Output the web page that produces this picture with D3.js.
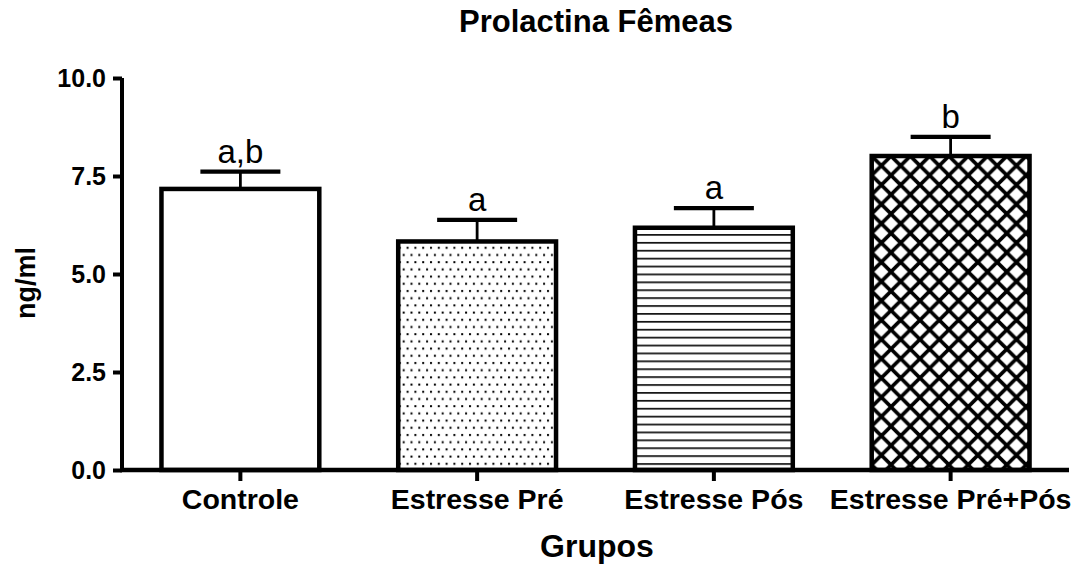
<!DOCTYPE html>
<html>
<head>
<meta charset="utf-8">
<script src="https://cdn.jsdelivr.net/npm/d3@7"></script>
<style>
  html, body { margin: 0; padding: 0; background: #fff; }
  svg { display: block; }
  text { font-family: "Liberation Sans", Arial, Helvetica, sans-serif; fill: #000; }
</style>
</head>
<body>
<svg id="chart" width="1080" height="564"></svg>
<script>
// Prolactin levels (ng/ml) in females, mean ± SEM per group
const groups  = ["Controle", "Estresse Pré", "Estresse Pós", "Estresse Pré+Pós"];
const means   = [7.17, 5.83, 6.18, 8.01];
const sems    = [0.44, 0.55, 0.50, 0.49];
const letters = ["a,b", "a", "a", "b"];
const fills   = ["none", "dots", "hlines", "cross"];
const yTicks  = [0, 2.5, 5, 7.5, 10];

const svg = d3.select("#chart");
const margin = { left: 122, right: 11, top: 78, bottom: 94 };
const W = 1080, H = 564;
const FONT = "'Liberation Sans', Arial, Helvetica, sans-serif";

const x = d3.scaleBand()
  .domain(groups)
  .range([margin.left, W - margin.right])
  .paddingInner(1 / 3)
  .paddingOuter(1 / 6);

const y = d3.scaleLinear()
  .domain([0, 10])
  .range([H - margin.bottom, margin.top]);

// Fill patterns
const defs = svg.append("defs");

const dots = defs.append("pattern")
  .attr("id", "dots").attr("patternUnits", "userSpaceOnUse")
  .attr("width", 7.8).attr("height", 14.4);
dots.append("rect").attr("width", 7.8).attr("height", 14.4).attr("fill", "#fff");
dots.append("rect").attr("x", 1).attr("y", 2).attr("width", 2).attr("height", 2).attr("fill", "#000");
dots.append("rect").attr("x", 4.9).attr("y", 9.2).attr("width", 2).attr("height", 2).attr("fill", "#000");

const hl = defs.append("pattern")
  .attr("id", "hlines").attr("patternUnits", "userSpaceOnUse")
  .attr("width", 10).attr("height", 7.9);
hl.append("rect").attr("width", 10).attr("height", 7.9).attr("fill", "#fff");
hl.append("rect").attr("y", 5).attr("width", 10).attr("height", 1.6).attr("fill", "#000");

// diamond cross-hatch: both diagonal families across the tile
const cs = 19.3;
const cr = defs.append("pattern")
  .attr("id", "cross").attr("patternUnits", "userSpaceOnUse")
  .attr("x", x(groups[3])).attr("y", y(means[3]))
  .attr("width", cs).attr("height", cs);
cr.append("rect").attr("width", cs).attr("height", cs).attr("fill", "#fff");
const hatch = [];
for (const k of [-1, 0, 1]) hatch.push(`M${-cs + k * cs},${-cs}L${2 * cs + k * cs},${2 * cs}`);
for (const k of [0, 1, 2]) hatch.push(`M${-cs},${k * cs + cs}L${2 * cs},${k * cs - 2 * cs}`);
cr.append("path")
  .attr("d", hatch.join(""))
  .attr("stroke", "#000").attr("stroke-width", 3.6).attr("fill", "none");

// Title
svg.append("text")
  .attr("x", 596).attr("y", 32)
  .attr("text-anchor", "middle")
  .attr("font-size", 31).attr("font-weight", "bold")
  .text("Prolactina Fêmeas");

// Bars
const bars = svg.append("g");
groups.forEach((g, i) => {
  const bx = x(g), bw = x.bandwidth();
  bars.append("rect")
    .attr("x", bx).attr("y", y(means[i]))
    .attr("width", bw).attr("height", y(0) - y(means[i]))
    .attr("fill", fills[i] === "none" ? "#fff" : `url(#${fills[i]})`)
    .attr("stroke", "#000").attr("stroke-width", 4.5);

  const cx = bx + bw / 2;
  // error bar (upper)
  bars.append("line")
    .attr("x1", cx).attr("x2", cx)
    .attr("y1", y(means[i])).attr("y2", y(means[i] + sems[i]))
    .attr("stroke", "#000").attr("stroke-width", 2.8);
  bars.append("line")
    .attr("x1", cx - 40).attr("x2", cx + 40)
    .attr("y1", y(means[i] + sems[i])).attr("y2", y(means[i] + sems[i]))
    .attr("stroke", "#000").attr("stroke-width", 4.2);
  // significance letters
  bars.append("text")
    .attr("x", cx).attr("y", y(means[i] + sems[i]) - 9)
    .attr("text-anchor", "middle")
    .attr("font-size", 33)
    .text(letters[i]);
});

// Y axis
const yAxis = svg.append("g")
  .attr("transform", `translate(${margin.left},0)`)
  .call(d3.axisLeft(y).tickValues(yTicks).tickFormat(d3.format(".1f")).tickSize(9).tickPadding(7));
yAxis.select(".domain").attr("d", `M0,${y(10)}V${y(0)}`).attr("stroke-width", 4);
yAxis.selectAll(".tick line").attr("stroke-width", 4);
yAxis.selectAll(".tick text")
  .attr("font-size", 25).attr("font-weight", "bold")
  .attr("font-family", FONT);

// X axis
const xAxis = svg.append("g")
  .attr("transform", `translate(0,${y(0)})`)
  .call(d3.axisBottom(x).tickSize(11).tickPadding(8));
xAxis.select(".domain").attr("d", `M${margin.left - 2},0H${W - margin.right}`).attr("stroke-width", 4.5);
xAxis.selectAll(".tick line").attr("stroke-width", 4);
xAxis.selectAll(".tick text")
  .attr("font-size", 28.5).attr("font-weight", "bold")
  .attr("font-family", FONT);

// Axis titles
svg.append("text")
  .attr("x", 597).attr("y", 557)
  .attr("text-anchor", "middle")
  .attr("font-size", 32).attr("font-weight", "bold")
  .text("Grupos");

svg.append("text")
  .attr("transform", `translate(35,283) rotate(-90)`)
  .attr("text-anchor", "middle")
  .attr("font-size", 27).attr("font-weight", "bold")
  .text("ng/ml");
</script>
</body>
</html>
